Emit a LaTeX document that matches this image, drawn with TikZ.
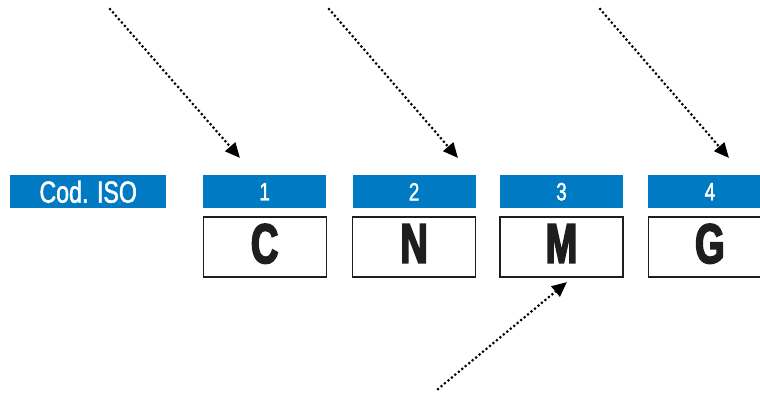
\documentclass[tikz,border=0pt]{standalone}
\usepackage{fontspec}
\setmainfont{Liberation Sans}[FakeStretch=0.76]
\newfontfamily\hdrfont{Liberation Sans}[FakeStretch=0.76,FakeBold=1.5]
\newfontfamily\codefont{Liberation Sans}[FakeStretch=0.68,FakeBold=3]
\usepackage{xcolor}
\usetikzlibrary{positioning,arrows.meta}

\definecolor{isoblue}{RGB}{0,122,195}
\definecolor{boxline}{RGB}{30,30,30}

\begin{document}
\begin{tikzpicture}[
  x=1pt, y=-1pt,
  hdr/.style={fill=isoblue, text=white, minimum width=123pt, minimum height=33pt,
    inner sep=0pt, font=\hdrfont\fontsize{25}{25}\selectfont},
  letter/.style={draw=boxline, line width=1.2pt, minimum width=123pt, minimum height=60pt,
    inner sep=0pt, text depth=7pt, text=boxline, font=\codefont\bfseries\fontsize{56}{56}\selectfont},
  pointer/.style={line width=3pt, line cap=round, dash pattern=on 0pt off 4.5pt,
    -{Triangle[length=15pt,width=13pt]}},
  node distance=25pt
]
\useasboundingbox (0,0) rectangle (760,392);

% header row
\node[hdr, anchor=north west, minimum width=156pt, font=\hdrfont\fontsize{30.5}{30.5}\selectfont] (cod) at (10,175) {Cod. ISO};
\node[hdr, anchor=north west] (h1) at (203,175) {1};
\node[hdr, right=26pt of h1] (h2) {2};
\node[hdr, right=24pt of h2] (h3) {3};
\node[hdr, right=of h3] (h4) {4};

% letter boxes
\node[letter, below=8pt of h1] (c1) {C};
\node[letter, below=8pt of h2] (c2) {N};
\node[letter, below=8pt of h3] (c3) {M};
\node[letter, below=8pt of h4] (c4) {G};

% pointers
\coordinate (p1) at (110,9);
\coordinate (q1) at (240,158);
\coordinate (p2) at (329,9);
\coordinate (q2) at (458,158);
\coordinate (p3) at (600,9);
\coordinate (q3) at (729,158);
\coordinate (p4) at (438,389);
\coordinate (q4) at (567,282);

\draw[pointer] (p1) -- (q1);
\draw[pointer] (p2) -- (q2);
\draw[pointer] (p3) -- (q3);
\draw[pointer] (p4) -- (q4);
\end{tikzpicture}
\end{document}
